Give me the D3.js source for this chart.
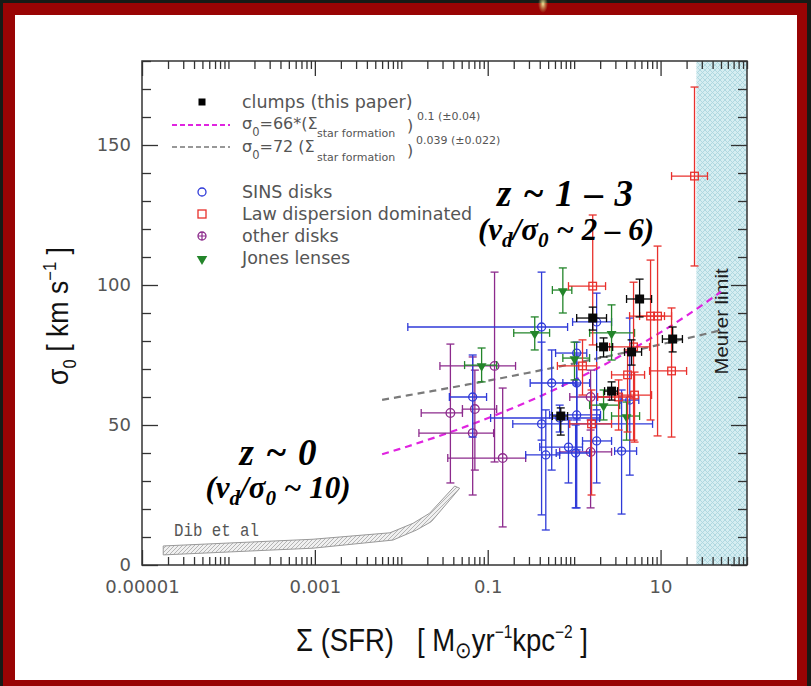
<!DOCTYPE html>
<html>
<head>
<meta charset="utf-8">
<script src="https://cdn.jsdelivr.net/npm/d3@7"></script>
<style>
  html, body { margin: 0; padding: 0; background: #171b16; }
  svg { display: block; }
  .keep-spaces { white-space: pre; }
</style>
</head>
<body>
<svg id="chart" width="811" height="686"></svg>
<script>
// ---- axis ticks ----
const xTickLabelValues = [1e-5, 1e-3, 1e-1, 10];
const xTickLabels = ["0.00001", "0.001", "0.1", "10"];
const yTickLabelValues = [0, 50, 100, 150];
const yTickLabels = ["0", "50", "100", "150"];
const yMinorTicks = [0, 10, 20, 30, 40, 50, 60, 70, 80, 90, 100, 110, 120, 130, 140, 150, 160, 170, 180];

// ---- points: [Σ_SFR, Σ lo, Σ hi, σ0, σ0 lo, σ0 hi] ----
const clumps = [
  [5.72, 4.04, 7.87, 95.0, 88.6, 102.1],
  [1.64, 1.07, 2.37, 88.2, 83.9, 92.1],
  [2.19, 1.82, 2.79, 77.9, 74.3, 81.1],
  [4.62, 3.83, 6.03, 76.1, 71.4, 80.4],
  [13.8, 10.5, 17.9, 80.7, 76.1, 85.0],
  [2.71, 2.25, 3.18, 62.1, 58.9, 65.4],
  [0.70, 0.56, 0.84, 53.2, 46.4, 56.1]
];
const sinsDisks = [
  [0.42, 0.0119, 0.84, 85.0, 44.6, 104.6],
  [0.067, 0.036, 0.097, 60.0, 45.7, 75.0],
  [0.42, 0.195, 8.08, 50.4, 17.9, 79.6],
  [0.47, 0.275, 0.68, 39.3, 12.5, 55.4],
  [1.82, 0.96, 2.71, 86.8, 51.8, 97.1],
  [1.07, 0.61, 1.40, 75.7, 51.8, 79.6],
  [0.55, 0.31, 1.04, 65.0, 33.9, 76.8],
  [1.07, 0.74, 1.51, 65.0, 41.1, 75.0],
  [1.07, 0.52, 2.02, 53.6, 20.4, 64.3],
  [1.82, 1.25, 2.71, 44.3, 29.3, 55.4],
  [0.86, 0.40, 1.25, 42.1, 29.3, 51.8],
  [1.04, 0.62, 1.51, 40.0, 20.4, 50.0],
  [3.54, 2.94, 5.28, 40.7, 18.2, 62.5],
  [4.40, 3.40, 5.60, 58.9, 32.1, 88.2],
  [0.68, 0.108, 1.97, 52.5, 47.5, 57.1]
];
const lawDisks = [
  [24.7, 13.4, 34.9, 138.9, 106.8, 170.7],
  [1.64, 0.86, 2.31, 99.6, 78.6, 125.0],
  [7.66, 4.38, 11.1, 88.9, 51.8, 108.9],
  [9.23, 5.72, 13.4, 88.9, 46.1, 113.9],
  [13.4, 7.46, 20.0, 69.3, 45.7, 91.8],
  [1.25, 0.64, 1.82, 71.1, 60.7, 80.4],
  [4.87, 2.57, 7.46, 77.9, 44.6, 101.0],
  [4.15, 2.71, 6.53, 67.9, 47.5, 76.8],
  [5.00, 2.94, 7.87, 60.7, 43.9, 68.9],
  [3.27, 1.87, 5.00, 60.0, 48.2, 66.1],
  [1.59, 0.89, 2.71, 50.4, 25.0, 62.5]
];
const otherDisks = [
  [0.12, 0.028, 0.21, 71.1, 36.8, 104.6],
  [0.037, 0.017, 0.051, 54.3, 29.3, 78.9],
  [0.071, 0.051, 0.127, 55.7, 33.9, 69.6],
  [0.067, 0.016, 0.117, 47.1, 25.0, 74.3],
  [0.149, 0.0345, 0.275, 38.2, 13.6, 63.2],
  [1.55, 0.89, 2.57, 60.0, 48.2, 69.6],
  [1.55, 0.68, 2.71, 40.4, 20.4, 51.8]
];
const jonesLenses = [
  [0.74, 0.56, 0.94, 98.2, 90.0, 106.1],
  [0.35, 0.20, 0.52, 82.9, 76.8, 88.6],
  [0.085, 0.054, 0.127, 71.4, 65.4, 77.5],
  [2.71, 1.51, 5.00, 82.9, 73.2, 92.9],
  [1.01, 0.74, 1.51, 73.9, 66.1, 79.6],
  [2.19, 1.51, 3.36, 57.1, 51.8, 62.5],
  [4.04, 2.71, 5.72, 53.2, 44.6, 58.2]
];

// ---- local (z ~ 0) relation of Dib et al., drawn as a band ----
const dibUpperX = [1.76e-5, 9.5e-4, 7.4e-3, 0.0137, 0.0213, 0.0333, 0.0415];
const dibUpperY = [6.8, 9.2, 11.5, 14.9, 18.5, 25.0, 28.2];
const dibLowerX = [1.76e-5, 9.5e-4, 8.0e-3, 0.0150, 0.0223, 0.0364, 0.0474];
const dibLowerY = [3.6, 6.0, 8.9, 12.5, 15.5, 23.2, 27.4];

// ---- power-law fits σ0 = A Σ^b ----
const fitSteep = { norm: 66, index: 0.1 };
const fitFlat = { norm: 72, index: 0.039 };
const fitRange = [0.006, 50];

// ---- Meurer starburst limit ----
const meurerLimit = 26;

// ================= drawing =================
const W = 811, H = 686;
const svg = d3.select("#chart");
const defs = svg.append("defs");

// slide frame
svg.append("rect").attr("width", W).attr("height", H).attr("fill", "#171b16");
svg.append("rect").attr("x", 3).attr("y", 3).attr("width", 804).attr("height", 690).attr("fill", "#990404");
const glow = defs.append("radialGradient").attr("id", "glow");
glow.append("stop").attr("offset", "0%").attr("stop-color", "#f4f0a0").attr("stop-opacity", 0.95);
glow.append("stop").attr("offset", "100%").attr("stop-color", "#c8c060").attr("stop-opacity", 0);
svg.append("ellipse").attr("cx", 543).attr("cy", 4).attr("rx", 5).attr("ry", 9).attr("fill", "url(#glow)");
svg.append("rect").attr("x", 15).attr("y", 15).attr("width", 782).attr("height", 665).attr("fill", "#ffffff");

const x = d3.scaleLog().domain([1e-5, 100]).range([142, 747]);
const y = d3.scaleLinear().domain([0, 180]).range([565, 61]);
const [X0, X1] = x.range();
const [Y0, Y1] = y.range();

// hatch patterns
const pM = defs.append("pattern").attr("id", "meurerHatch").attr("patternUnits", "userSpaceOnUse")
  .attr("width", 5).attr("height", 5);
pM.append("rect").attr("width", 5).attr("height", 5).attr("fill", "#d5edf1");
pM.append("path").attr("d", "M0,0L5,5M5,0L0,5").attr("stroke", "#acd6de").attr("stroke-width", 0.9);

const pD = defs.append("pattern").attr("id", "dibHatch").attr("patternUnits", "userSpaceOnUse")
  .attr("width", 4).attr("height", 4);
pD.append("rect").attr("width", 4).attr("height", 4).attr("fill", "#f0f0f0");
pD.append("path").attr("d", "M-1,5L5,-1M-1,1L1,-1M3,5L5,3").attr("stroke", "#a4a4a4").attr("stroke-width", 0.8);

// Meurer limit band
svg.append("rect").attr("x", x(meurerLimit)).attr("y", Y1)
  .attr("width", X1 - x(meurerLimit)).attr("height", Y0 - Y1)
  .attr("fill", "url(#meurerHatch)");
svg.append("text")
  .attr("transform", `translate(${(x(meurerLimit) + X1) / 2 + 6},${y(87)}) rotate(-90)`)
  .attr("text-anchor", "middle")
  .attr("font-family", "'Liberation Sans', Arial, sans-serif")
  .attr("font-size", 19).attr("fill", "#1e1e1e")
  .attr("textLength", 106).attr("lengthAdjust", "spacingAndGlyphs")
  .text("Meurer limit");

// Dib et al. band
const dibPts = dibUpperX.map((v, i) => [x(v), y(dibUpperY[i])])
  .concat(dibLowerX.map((v, i) => [x(v), y(dibLowerY[i])]).reverse());
svg.append("path").attr("d", d3.line()(dibPts) + "Z")
  .attr("fill", "url(#dibHatch)").attr("stroke", "#999").attr("stroke-width", 1);
svg.append("text").attr("x", 174).attr("y", y(10.4))
  .attr("font-family", "'Liberation Mono', 'DejaVu Sans Mono', monospace")
  .attr("font-size", 19).attr("fill", "#555")
  .attr("textLength", 85).attr("lengthAdjust", "spacingAndGlyphs")
  .text("Dib et al");

// axes (ticks point into the plot)
const allX = x.ticks();
const isLabeled = v => xTickLabelValues.some(t => Math.abs(Math.log10(v) - Math.log10(t)) < 1e-6);
const minorX = allX.filter(v => !isLabeled(v));
const minorY = yMinorTicks.filter(v => !yTickLabelValues.includes(v));

function styleAxis(g) {
  g.select(".domain").remove();
  g.selectAll(".tick line").attr("stroke", "#333").attr("stroke-width", 1.3);
  g.selectAll(".tick text").attr("font-family", "'DejaVu Sans', sans-serif")
    .attr("font-size", 18).attr("fill", "#555");
}
svg.append("g").attr("transform", `translate(0,${Y0})`)
  .call(d3.axisBottom(x).tickValues(minorX).tickSize(-8).tickFormat("")).call(styleAxis);
svg.append("g").attr("transform", `translate(0,${Y0})`)
  .call(d3.axisBottom(x).tickValues(xTickLabelValues).tickSize(-15).tickPadding(15)
    .tickFormat((d, i) => xTickLabels[i])).call(styleAxis);
svg.append("g").attr("transform", `translate(0,${Y1})`)
  .call(d3.axisTop(x).tickValues(minorX).tickSize(-8).tickFormat("")).call(styleAxis);
svg.append("g").attr("transform", `translate(0,${Y1})`)
  .call(d3.axisTop(x).tickValues(xTickLabelValues).tickSize(-15).tickFormat("")).call(styleAxis);
svg.append("g").attr("transform", `translate(${X0},0)`)
  .call(d3.axisLeft(y).tickValues(minorY).tickSize(-9).tickFormat("")).call(styleAxis);
svg.append("g").attr("transform", `translate(${X0},0)`)
  .call(d3.axisLeft(y).tickValues(yTickLabelValues).tickSize(-16).tickPadding(11)
    .tickFormat((d, i) => yTickLabels[i])).call(styleAxis);
svg.append("g").attr("transform", `translate(${X1},0)`)
  .call(d3.axisRight(y).tickValues(minorY).tickSize(-9).tickFormat("")).call(styleAxis);
svg.append("g").attr("transform", `translate(${X1},0)`)
  .call(d3.axisRight(y).tickValues(yTickLabelValues).tickSize(-16).tickFormat("")).call(styleAxis);

svg.append("rect").attr("x", X0).attr("y", Y1).attr("width", X1 - X0).attr("height", Y0 - Y1)
  .attr("fill", "none").attr("stroke", "#333").attr("stroke-width", 1.5);

// fit lines
function fitPath(fit) {
  const lo = Math.log10(fitRange[0]), hi = Math.log10(fitRange[1]);
  const pts = d3.range(0, 41).map(i => {
    const s = Math.pow(10, lo + (hi - lo) * i / 40);
    return [x(s), y(fit.norm * Math.pow(s, fit.index))];
  });
  return d3.line()(pts);
}
svg.append("path").attr("d", fitPath(fitFlat)).attr("fill", "none")
  .attr("stroke", "#7a7a7a").attr("stroke-width", 2.2).attr("stroke-dasharray", "7,5");
svg.append("path").attr("d", fitPath(fitSteep)).attr("fill", "none")
  .attr("stroke", "#e024e0").attr("stroke-width", 2.2).attr("stroke-dasharray", "7,5");

// error bars + markers
const CAP = 4;
function errorBars(rows, color) {
  const g = svg.append("g").attr("stroke", color).attr("stroke-width", 1.3).attr("fill", "none");
  const e = g.selectAll("g").data(rows).join("g");
  e.append("line").attr("x1", d => x(d[1])).attr("x2", d => x(d[2])).attr("y1", d => y(d[3])).attr("y2", d => y(d[3]));
  e.append("line").attr("x1", d => x(d[1])).attr("x2", d => x(d[1])).attr("y1", d => y(d[3]) - CAP).attr("y2", d => y(d[3]) + CAP);
  e.append("line").attr("x1", d => x(d[2])).attr("x2", d => x(d[2])).attr("y1", d => y(d[3]) - CAP).attr("y2", d => y(d[3]) + CAP);
  e.append("line").attr("x1", d => x(d[0])).attr("x2", d => x(d[0])).attr("y1", d => y(d[4])).attr("y2", d => y(d[5]));
  e.append("line").attr("x1", d => x(d[0]) - CAP).attr("x2", d => x(d[0]) + CAP).attr("y1", d => y(d[4])).attr("y2", d => y(d[4]));
  e.append("line").attr("x1", d => x(d[0]) - CAP).attr("x2", d => x(d[0]) + CAP).attr("y1", d => y(d[5])).attr("y2", d => y(d[5]));
  return e;
}
const sym = { triangle: d3.symbol().type(d3.symbolTriangle) };
const COL = { other: "#8c2a8c", sins: "#2f3ad8", jones: "#23852a", law: "#e8302c", clumps: "#080808" };

errorBars(otherDisks, COL.other).append("circle")
  .attr("cx", d => x(d[0])).attr("cy", d => y(d[3])).attr("r", 4.3);
errorBars(sinsDisks, COL.sins).append("circle")
  .attr("cx", d => x(d[0])).attr("cy", d => y(d[3])).attr("r", 4);
errorBars(jonesLenses, COL.jones).append("path")
  .attr("d", sym.triangle.size(42)())
  .attr("transform", d => `translate(${x(d[0])},${y(d[3]) + 1}) rotate(180)`)
  .attr("fill", COL.jones).attr("stroke", "none");
errorBars(lawDisks, COL.law).append("rect")
  .attr("x", d => x(d[0]) - 3.8).attr("y", d => y(d[3]) - 3.8).attr("width", 7.6).attr("height", 7.6);
errorBars(clumps, COL.clumps).append("rect")
  .attr("x", d => x(d[0]) - 4.5).attr("y", d => y(d[3]) - 4.5).attr("width", 9).attr("height", 9)
  .attr("fill", COL.clumps).attr("stroke", "none");

// legend
const LX = 202, TX = 242;
const lg = svg.append("g").attr("font-family", "'DejaVu Sans', sans-serif").attr("fill", "#555");
function ltext(t, xx, yy, size) {
  return lg.append("text").attr("x", xx).attr("y", yy).attr("font-size", size).text(t);
}
lg.append("rect").attr("x", LX - 3.5).attr("y", 102 - 3.5).attr("width", 7).attr("height", 7).attr("fill", "#000");
ltext("clumps (this paper)", TX, 108, 17.5);

// fit formulas, each piece its own text so the sub/superscripts sit like the typeset legend
lg.append("line").attr("x1", 172).attr("x2", 230).attr("y1", 125).attr("y2", 125)
  .attr("stroke", "#e024e0").attr("stroke-width", 2).attr("stroke-dasharray", "5,3");
const f1 = lg.append("text").attr("x", TX).attr("y", 129).attr("font-size", 16);
f1.append("tspan").text("σ");
f1.append("tspan").attr("dy", 7).attr("font-size", 11.5).text("0");
f1.append("tspan").attr("dy", -7).text("=66*(Σ");
ltext("star formation", 317, 137, 11);
ltext(")", 407, 131, 16);
ltext("0.1 (±0.04)", 417, 120, 11);

lg.append("line").attr("x1", 172).attr("x2", 230).attr("y1", 147).attr("y2", 147)
  .attr("stroke", "#777").attr("stroke-width", 1.6).attr("stroke-dasharray", "5,3");
const f2 = lg.append("text").attr("x", TX).attr("y", 152).attr("font-size", 16);
f2.append("tspan").text("σ");
f2.append("tspan").attr("dy", 7).attr("font-size", 11.5).text("0");
f2.append("tspan").attr("dy", -7).text("=72 (Σ");
ltext("star formation", 317, 161, 11);
ltext(")", 407, 156, 16);
ltext("0.039 (±0.022)", 416, 144, 11);

lg.append("circle").attr("cx", LX).attr("cy", 192).attr("r", 4).attr("fill", "none")
  .attr("stroke", COL.sins).attr("stroke-width", 1.3);
ltext("SINS disks", TX, 198, 17.5);
lg.append("rect").attr("x", LX - 4).attr("y", 214 - 4).attr("width", 8).attr("height", 8).attr("fill", "none")
  .attr("stroke", COL.law).attr("stroke-width", 1.3);
ltext("Law dispersion dominated", TX, 220, 17.5);
lg.append("circle").attr("cx", LX).attr("cy", 236).attr("r", 4).attr("fill", "none")
  .attr("stroke", COL.other).attr("stroke-width", 1.3);
lg.append("path").attr("d", `M${LX - 4},236H${LX + 4}M${LX},232V240`).attr("stroke", COL.other).attr("stroke-width", 1.2);
ltext("other disks", TX, 242, 17.5);
lg.append("path").attr("d", sym.triangle.size(48)())
  .attr("transform", `translate(${LX},259) rotate(180)`).attr("fill", COL.jones);
ltext("Jones lenses", TX, 264, 17.5);

// redshift annotations
const serif = "'Liberation Serif', 'Times New Roman', serif";
function annot(t, cx, by, size, len) {
  return svg.append("text").attr("x", cx).attr("y", by).attr("text-anchor", "middle")
    .attr("font-family", serif).attr("font-weight", "bold").attr("font-style", "italic")
    .attr("font-size", size).attr("fill", "#000")
    .attr("textLength", len).attr("lengthAdjust", "spacing")
    .text(t);
}
function ratioLabel(cx, by, size, rhs) {
  const t = svg.append("text").attr("x", cx).attr("y", by).attr("text-anchor", "middle")
    .attr("font-family", serif).attr("font-weight", "bold").attr("font-style", "italic")
    .attr("font-size", size).attr("fill", "#000");
  t.append("tspan").text("(v");
  t.append("tspan").attr("dy", 7).attr("font-size", size * 0.68).text("d");
  t.append("tspan").attr("dy", -7).text("/σ");
  t.append("tspan").attr("dy", 7).attr("font-size", size * 0.68).text("0");
  t.append("tspan").attr("dy", -7).text(" ~ " + rhs + ")");
  return t;
}
annot("z ~ 1 – 3", 565, 206, 37, 136);
ratioLabel(566, 240, 31, "2 – 6");
annot("z ~ 0", 278, 465, 37, 77);
ratioLabel(278, 498, 31, "10");

// axis titles (set in a condensed width)
const titleFont = "'Liberation Sans', Arial, sans-serif";
const yt = svg.append("text").attr("transform", "translate(68,316) rotate(-90) scale(0.92,1)")
  .attr("text-anchor", "middle").attr("font-family", titleFont).attr("font-size", 29).attr("fill", "#111");
yt.append("tspan").text("σ");
yt.append("tspan").attr("dy", 8).attr("font-size", 18).text("0");
yt.append("tspan").attr("dy", -8).text(" [ km s");
yt.append("tspan").attr("dy", -12).attr("font-size", 18).text("−1");
yt.append("tspan").attr("dy", 12).text(" ]");

const xt = svg.append("text").attr("class", "keep-spaces")
  .attr("transform", "translate(442,651) scale(0.86,1)")
  .attr("text-anchor", "middle").attr("font-family", titleFont).attr("font-size", 32).attr("fill", "#111");
xt.append("tspan").text("Σ (SFR)   [ M");
xt.append("tspan").attr("dy", 7).attr("font-size", 23).text("⊙");
xt.append("tspan").attr("dy", -7).text("yr");
xt.append("tspan").attr("dy", -13).attr("font-size", 18).text("−1");
xt.append("tspan").attr("dy", 13).text("kpc");
xt.append("tspan").attr("dy", -13).attr("font-size", 18).text("−2");
xt.append("tspan").attr("dy", 13).text(" ]");
</script>
</body>
</html>
